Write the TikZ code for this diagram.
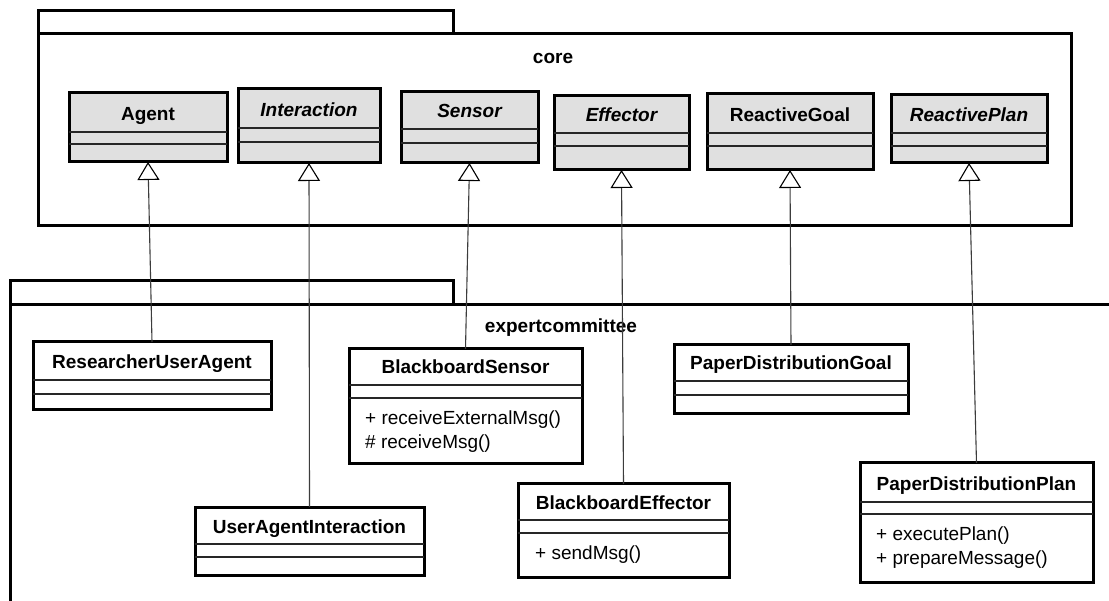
\documentclass[tikz,border=0pt]{standalone}
\usepackage{fontspec}
\setmainfont{Liberation Sans}
\usetikzlibrary{arrows.meta}
\definecolor{corefill}{RGB}{224,224,224}
\definecolor{connector}{RGB}{60,60,60}
\tikzset{
  pkg/.style={draw=black, line width=3pt},
  cls/.style={draw=black, line width=3pt, inner sep=0pt, outer sep=0pt, anchor=north west},
  corecls/.style={cls, fill=corefill},
  expcls/.style={cls, fill=white},
  comp/.style={draw=black!85, line width=1.3pt},
  ttl/.style={anchor=base, inner sep=0pt, font=\fontsize{19}{22}\selectfont\bfseries},
  attl/.style={anchor=base, inner sep=0pt, font=\fontsize{19}{22}\selectfont\bfseries\itshape},
  meth/.style={anchor=base west, inner sep=0pt, font=\fontsize{19}{22}\selectfont},
  pkglabel/.style={anchor=base, inner sep=0pt, font=\fontsize{19}{22}\selectfont\bfseries},
  gen/.style={draw=connector, line width=1.1pt, -{Triangle[color=black, fill=white, length=18pt, width=22pt, line width=1.1pt]}},
}
\begin{document}
\begin{tikzpicture}[x=1pt, y=-1pt]
\useasboundingbox (0,0) rectangle (1109,601);
\fill[white] (0,0) rectangle (1109,601);

% ---- packages ----
\draw[pkg] (38,11) rectangle (453,34);
\draw[pkg] (38,34) rectangle (1071,226);
\node[pkglabel] (corelbl) at (553,64) {core};

\draw[pkg] (10,601) -- (10,281) -- (453,281) -- (453,305);
\draw[pkg] (10,305) -- (1109,305);
\node[pkglabel] (explbl) at (561,333) {expertcommittee};

% ---- core classes ----
\node[corecls, minimum width=158pt, minimum height=69pt] (agent) at (69,93) {};
\draw[comp] (69,132) -- (227,132) (69,144) -- (227,144);
\node[ttl] (agent-t) at (148,121) {Agent};

\node[corecls, minimum width=142pt, minimum height=74pt] (interaction) at (238,89) {};
\draw[comp] (238,128) -- (380,128) (238,142) -- (380,142);
\node[attl] (interaction-t) at (309,117) {Interaction};

\node[corecls, minimum width=137pt, minimum height=71pt] (sensor) at (401,92) {};
\draw[comp] (401,129) -- (538,129) (401,143) -- (538,143);
\node[attl] (sensor-t) at (469.5,118) {Sensor};

\node[corecls, minimum width=135pt, minimum height=74pt] (effector) at (554,96) {};
\draw[comp] (554,133) -- (689,133) (554,146) -- (689,146);
\node[attl] (effector-t) at (621.5,122) {Effector};

\node[corecls, minimum width=166pt, minimum height=76pt] (rgoal) at (707,94) {};
\draw[comp] (707,133) -- (873,133) (707,146) -- (873,146);
\node[ttl] (rgoal-t) at (790,122) {ReactiveGoal};

\node[corecls, minimum width=156pt, minimum height=68pt] (rplan) at (891,95) {};
\draw[comp] (891,133) -- (1047,133) (891,146) -- (1047,146);
\node[attl] (rplan-t) at (969,122) {ReactivePlan};

% ---- expertcommittee classes ----
\node[expcls, minimum width=238pt, minimum height=68pt] (rua) at (33,342) {};
\draw[comp] (33,380) -- (271,380) (33,394) -- (271,394);
\node[ttl] (rua-t) at (152,369) {ResearcherUserAgent};

\node[expcls, minimum width=229pt, minimum height=68pt] (uai) at (195,507) {};
\draw[comp] (195,544) -- (424,544) (195,557) -- (424,557);
\node[ttl] (uai-t) at (309.5,533) {UserAgentInteraction};

\node[expcls, minimum width=233pt, minimum height=115pt] (bs) at (349,349) {};
\draw[comp] (349,385) -- (582,385) (349,398) -- (582,398);
\node[ttl] (bs-t) at (465.5,374) {BlackboardSensor};
\node[meth] (bs-m1) at (365,424.5) {+ receiveExternalMsg()};
\node[meth] (bs-m2) at (365,448.5) {\# receiveMsg()};

\node[expcls, minimum width=211pt, minimum height=93pt] (be) at (518,484) {};
\draw[comp] (518,520) -- (729,520) (518,533) -- (729,533);
\node[ttl] (be-t) at (623.5,509) {BlackboardEffector};
\node[meth] (be-m1) at (535,559.5) {+ sendMsg()};

\node[expcls, minimum width=234pt, minimum height=69pt] (pdg) at (674,345) {};
\draw[comp] (674,381) -- (908,381) (674,395) -- (908,395);
\node[ttl] (pdg-t) at (791,370) {PaperDistributionGoal};

\node[expcls, minimum width=233pt, minimum height=119pt] (pdp) at (860,463) {};
\draw[comp] (860,502) -- (1093,502) (860,514) -- (1093,514);
\node[ttl] (pdp-t) at (976.5,491) {PaperDistributionPlan};
\node[meth] (pdp-m1) at (876,540.5) {+ executePlan()};
\node[meth] (pdp-m2) at (876,564.5) {+ prepareMessage()};

% ---- generalizations ----
\draw[gen] (rua.north) -- (agent.south);
\draw[gen] (uai.north) -- (interaction.south);
\draw[gen] (bs.north) -- (sensor.south);
\draw[gen] (be.north) -- (effector.south);
\draw[gen] (pdg.north) -- (rgoal.south);
\draw[gen] (pdp.north) -- (rplan.south);
\end{tikzpicture}
\end{document}
